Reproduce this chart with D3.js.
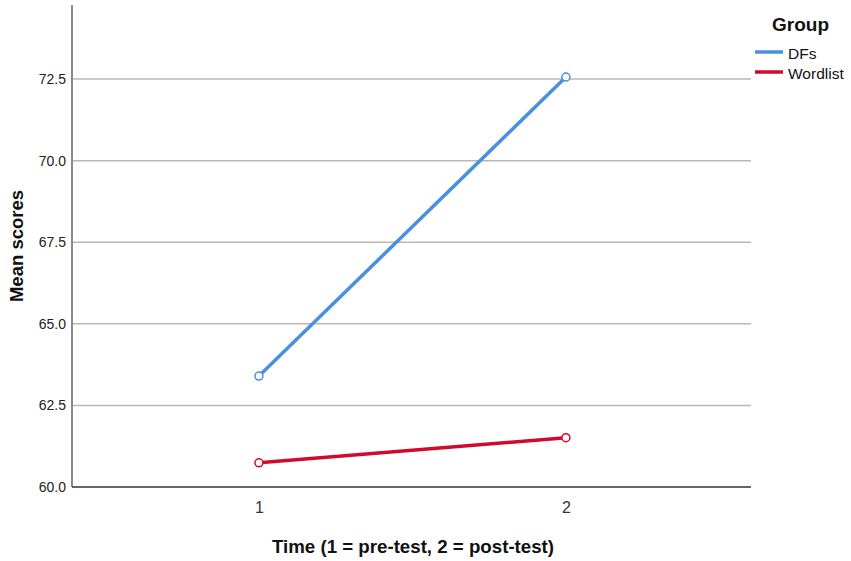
<!DOCTYPE html>
<html><head><meta charset="utf-8">
<script src="https://cdn.jsdelivr.net/npm/d3@7"></script>
<style>body{margin:0;background:#fff}svg{display:block}</style>
</head><body>
<script>
const times = [1, 2];
const groups = ["DFs", "Wordlist"];
const dfsValues = [63.40, 72.56];
const wordlistValues = [60.74, 61.51];
const yTicks = [60.0, 62.5, 65.0, 67.5, 70.0, 72.5];
const xTickLabels = ["1", "2"];
const colors = ["#4a8fe0", "#d10a2c"];

(function () {
const W = 851, H = 561;
const svg = d3.select("body").append("svg").attr("width", W).attr("height", H);
const pL = 72, pR = 751, pT = 5, pB = 487;
const x = d3.scaleLinear().domain([0.391, 2.603]).range([pL, pR]);
const y = d3.scaleLinear().domain([60, 74.77]).range([pB, pT]);
const font = "Arial, 'Liberation Sans', sans-serif";

// gridlines
svg.append("g").selectAll("line").data(yTicks.filter(d => d > 60)).join("line")
  .attr("x1", pL).attr("x2", pR).attr("y1", d => y(d)).attr("y2", d => y(d))
  .attr("stroke", "#b8b8b8").attr("stroke-width", 1.5);

// y axis
const yAxis = d3.axisLeft(y).tickValues(yTicks).tickFormat(d3.format(".1f")).tickSize(0).tickPadding(6);
const gy = svg.append("g").attr("transform", `translate(${pL},0)`).call(yAxis);
gy.select(".domain").remove();
gy.selectAll("text").attr("font-family", font).attr("font-size", 14).attr("fill", "#222");
svg.append("line").attr("x1", pL).attr("x2", pL).attr("y1", pT).attr("y2", pB)
  .attr("stroke", "#8a8a8a").attr("stroke-width", 2);

// x axis
const xAxis = d3.axisBottom(x).tickValues(times).tickFormat((d, i) => xTickLabels[i]).tickSize(0).tickPadding(15);
const gx = svg.append("g").attr("transform", `translate(0,${pB})`).call(xAxis);
gx.select(".domain").remove();
gx.selectAll("text").attr("font-family", font).attr("font-size", 16).attr("fill", "#333");
svg.append("line").attr("x1", pL).attr("x2", pR).attr("y1", pB).attr("y2", pB)
  .attr("stroke", "#333").attr("stroke-width", 1.5);

// titles
svg.append("text").attr("transform", `translate(23,246) rotate(-90)`)
  .attr("text-anchor", "middle").attr("font-family", font)
  .attr("font-weight", "bold").attr("font-size", 18.5).attr("fill", "#111").text("Mean scores");
svg.append("text").attr("x", 413).attr("y", 553)
  .attr("text-anchor", "middle").attr("font-family", font)
  .attr("font-weight", "bold").attr("font-size", 18.7).attr("fill", "#111").text("Time (1 = pre-test, 2 = post-test)");

// series
const series = [dfsValues, wordlistValues];
const line = d3.line().x((d, i) => x(times[i])).y(d => y(d));
series.forEach((vals, si) => {
  svg.append("path").datum(vals).attr("d", line).attr("fill", "none")
    .attr("stroke", colors[si]).attr("stroke-width", 3.5);
  svg.append("g").selectAll("circle").data(vals).join("circle")
    .attr("cx", (d, i) => x(times[i])).attr("cy", d => y(d)).attr("r", 4)
    .attr("fill", "#fff").attr("stroke", colors[si]).attr("stroke-width", 1.5);
});

// legend
svg.append("text").attr("x", 772).attr("y", 31).attr("font-family", font)
  .attr("font-weight", "bold").attr("font-size", 19).attr("fill", "#111").text("Group");
groups.forEach((g, i) => {
  const ly = 52 + i * 20;
  svg.append("line").attr("x1", 755).attr("x2", 783).attr("y1", ly).attr("y2", ly)
    .attr("stroke", colors[i]).attr("stroke-width", 3.5);
  svg.append("text").attr("x", 788).attr("y", ly + 7).attr("font-family", font)
    .attr("font-size", 15.5).attr("fill", "#111").text(g);
});
})();
</script>
</body></html>
